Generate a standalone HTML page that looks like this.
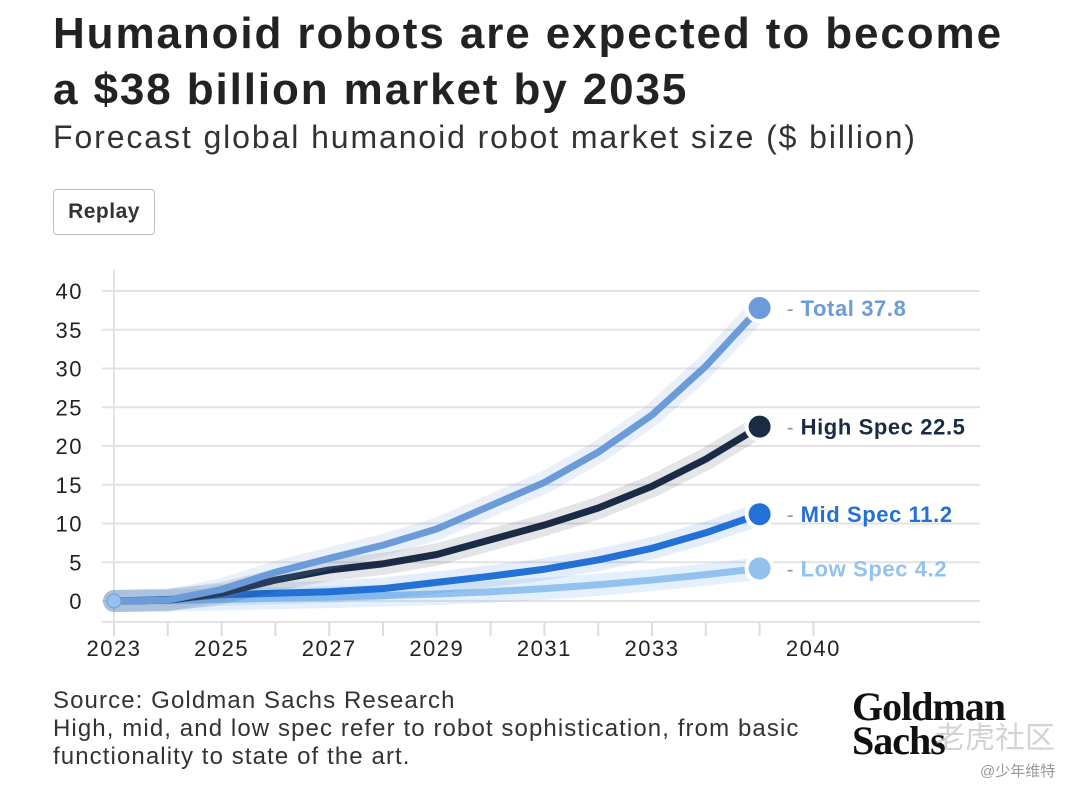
<!DOCTYPE html>
<html><head><meta charset="utf-8"><style>
body{margin:0;background:#fff;width:1092px;height:796px;overflow:hidden;font-family:"Liberation Sans",sans-serif;position:relative}
.t{position:absolute;left:53px;margin:0;color:#222}
#title{top:6px;font-size:44px;font-weight:bold;line-height:56px;letter-spacing:1.9px}
#sub{top:119px;font-size:32px;color:#333;letter-spacing:1.9px}
#replay{position:absolute;left:53px;top:189px;width:100px;height:44px;border:1px solid #bbb;border-radius:4px;font-size:21px;font-weight:bold;color:#333;text-align:center;line-height:44px;background:#fff;letter-spacing:0.5px}
#src{top:687px;font-size:24px;line-height:28px;color:#333;letter-spacing:1.1px}
#logo{position:absolute;left:852px;top:690px;font-family:"Liberation Serif",serif;font-weight:bold;font-size:40px;line-height:34px;color:#111;letter-spacing:-1px}
#wm{position:absolute;left:935px;top:713px;font-family:"Liberation Sans","Noto Sans CJK SC",sans-serif;font-size:30px;color:rgba(200,200,200,0.8)}
#wm2{position:absolute;left:980px;top:760px;font-family:"Liberation Sans","Noto Sans CJK SC",sans-serif;font-size:15px;color:#999}
</style></head><body>
<h1 class="t" id="title">Humanoid robots are expected to become<br>a $38 billion market by 2035</h1>
<div class="t" id="sub">Forecast global humanoid robot market size ($ billion)</div>
<div id="replay">Replay</div>
<svg id="chart" width="1092" height="796" style="position:absolute;left:0;top:0"></svg>
<div class="t" id="src">Source: Goldman Sachs Research<br>High, mid, and low spec refer to robot sophistication, from basic<br>functionality to state of the art.</div>
<div id="logo">Goldman<br>Sachs</div>
<div id="wm">老虎社区</div>
<div id="wm2">@少年维特</div>
<script>
const years=[2023,2024,2025,2026,2027,2028,2029,2030,2031,2032,2033,2034,2035,2040];
const xLabels=["2023","","2025","","2027","","2029","","2031","","2033","","","2040"];
const yTicks=[0,5,10,15,20,25,30,35,40];
const total=[0,0.1,1.5,3.7,5.5,7.2,9.3,12.3,15.3,19.2,24,30.3,37.8];
const high=[0,0.1,1,2.7,4,4.8,6,7.9,9.8,12,14.8,18.3,22.5];
const mid=[0,0.2,0.8,1,1.2,1.6,2.4,3.2,4.1,5.3,6.8,8.8,11.2];
const low=[0,0.05,0.2,0.35,0.5,0.7,0.9,1.2,1.6,2.1,2.7,3.4,4.2];
const seriesNames=["Low Spec","Mid Spec","High Spec","Total"];
const svg=document.getElementById('chart');
const NS="http://www.w3.org/2000/svg";
const X=i=>114+i*53.8;
const Y=v=>601-v*7.75;
function mk(t,a,p){const e=document.createElementNS(NS,t);for(const k in a)e.setAttribute(k,a[k]);(p||svg).appendChild(e);return e;}
yTicks.forEach(v=>{
 const l=mk('line',{x1:102,x2:980,y1:Y(v),y2:Y(v),stroke:'#e3e3e3','stroke-width':2});
 
 
 const t=mk('text',{x:83,y:Y(v)+8,'text-anchor':'end','font-size':22,fill:'#222','letter-spacing':1.5});t.textContent=v;
 
 
});
let ax=mk('line',{x1:114,x2:114,y1:270,y2:636,stroke:'#e3e3e3','stroke-width':2});


let bx=mk('line',{x1:102,x2:980,y1:622,y2:622,stroke:'#e3e3e3','stroke-width':2});


years.forEach((y,i)=>{
 const tk=mk('line',{x1:X(i),x2:X(i),y1:622,y2:636,stroke:'#ddd','stroke-width':2});
 
 
 if(xLabels[i]){const t=mk('text',{x:X(i),y:656,'text-anchor':'middle','font-size':22,fill:'#222','letter-spacing':1.5});t.textContent=xLabels[i];
 
 }
});
const S=[
 {d:low,c:'#93c2f0',h:'rgba(147,194,240,0.25)',lab:'Low Spec',n:'low-spec'},
 {d:mid,c:'#2370d6',h:'rgba(35,112,214,0.12)',lab:'Mid Spec',n:'mid-spec'},
 {d:high,c:'#1c2b45',h:'rgba(28,43,69,0.12)',lab:'High Spec',n:'high-spec'},
 {d:total,c:'#6b9bd8',h:'rgba(107,155,216,0.15)',lab:'Total',n:'total'}];
S.forEach(s=>{
 const pts=s.d.map((v,i)=>X(i)+','+Y(v)).join(' ');
 const h=mk('polyline',{points:pts,fill:'none',stroke:s.h,'stroke-width':22,'stroke-linejoin':'round','stroke-linecap':'round'});
 
 
 const l=mk('polyline',{points:pts,fill:'none',stroke:s.c,'stroke-width':7,'stroke-linejoin':'round'});
 
 
});
S.forEach(s=>{
 const i=s.d.length-1,v=s.d[i];
 const c=mk('circle',{cx:X(i),cy:Y(v),r:13,fill:s.c,stroke:'#fff','stroke-width':4});
 
 
 const d=mk('text',{x:X(i)+27,y:Y(v)+8,'font-size':21,fill:'#999'});d.textContent='-';
 
 
 const t=mk('text',{x:X(i)+41,y:Y(v)+8,'font-size':22,'font-weight':'bold',fill:s.c,'letter-spacing':0.6});t.textContent=s.lab+' '+v;
 
 
});
const st=mk('circle',{cx:X(0),cy:Y(0),r:7,fill:'#93c2f0',stroke:'#6b9bd8','stroke-width':1});


</script>
</body></html>
